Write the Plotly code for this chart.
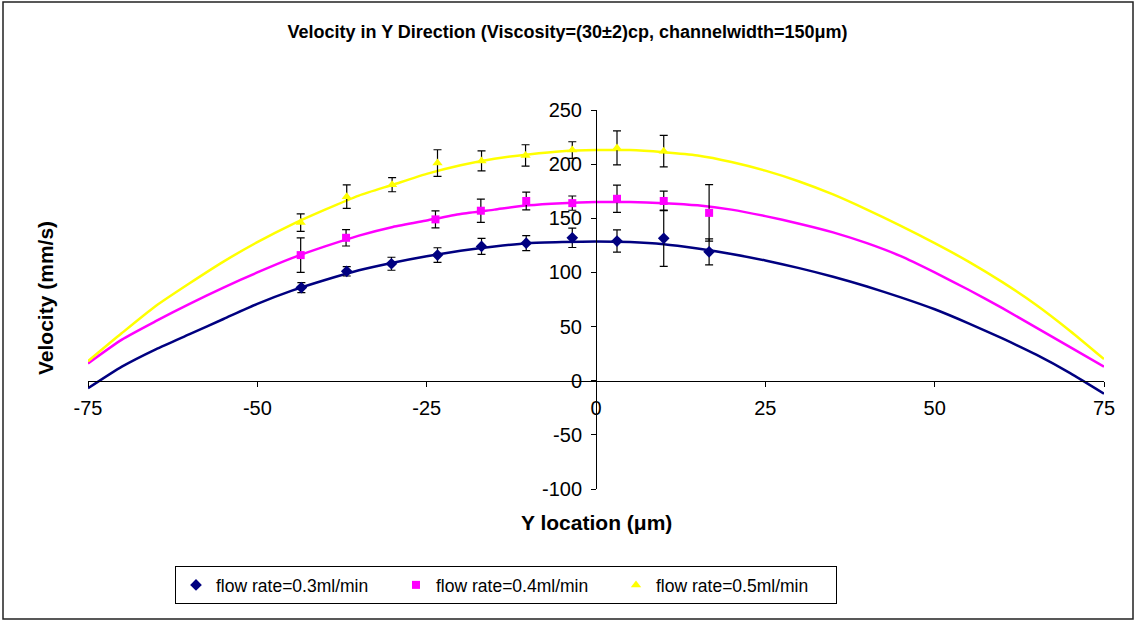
import plotly.graph_objects as go

# Fitted velocity profiles (at 5 um steps)
curve_x = [-75, -70, -65, -60, -55, -50, -45, -40, -35, -30, -25, -20, -15, -10, -5, 0,
           5, 10, 15, 20, 25, 30, 35, 40, 45, 50, 55, 60, 65, 70, 75]
curve_03 = [-7, 13, 29, 43, 57, 71, 83, 93, 102, 109, 115, 120, 124, 127, 128, 128.5,
            128, 126, 122, 117, 111, 104, 96, 87, 77, 66, 53, 39, 24, 7, -12]
curve_04 = [16, 38, 55, 71, 86, 100, 113, 124, 134, 142, 148, 154, 158, 162, 164, 165,
            165, 164, 162, 158, 152, 145, 137, 127, 115, 100, 84, 67, 49, 31, 13]
curve_05 = [18, 44, 69, 90, 110, 128, 144, 158, 171, 181, 191, 199, 205, 209, 212, 213,
            213, 211, 208, 202, 194, 184, 172, 158, 143, 127, 110, 91, 70, 46, 20]

# Measured points with error bars
meas03_x = [-43.5, -36.8, -30.2, -23.4, -16.9, -10.3, -3.5, 3.1, 10.0, 16.7]
meas03_y = [86, 101, 108, 116, 124, 127, 132, 129, 131.5, 119]
meas03_e = [4.6, 4.3, 6, 6.8, 7.4, 6.9, 9, 10.3, 26, 12]

meas04_x = [-43.6, -36.9, -23.7, -17.0, -10.3, -3.5, 3.1, 10.0, 16.7]
meas04_y = [116, 132, 149, 157, 166, 164, 168, 166, 155]
meas04_e = [16, 7.6, 7.8, 10.7, 8.2, 6.6, 12.6, 9, 26]

meas05_x = [-43.6, -36.8, -30.1, -23.4, -16.9, -10.4, -3.5, 3.1, 10.0]
meas05_y = [146, 170, 181, 201, 203, 208, 213, 215, 212]
meas05_e = [8, 10.9, 6.5, 12.3, 9.2, 9.9, 7.7, 15.7, 14.6]

names = ["flow rate=0.3ml/min", "flow rate=0.4ml/min", "flow rate=0.5ml/min"]
colors = ["#000080", "#FF00FF", "#FFFF00"]
symbols = ["diamond", "square", "triangle-up"]
msizes = [9, 8, 9]

x_ticks = [-75, -50, -25, 0, 25, 50, 75]
x_labels = ["-75", "-50", "-25", "0", "25", "50", "75"]
y_ticks = [-100, -50, 0, 50, 100, 150, 200, 250]
y_labels = ["-100", "-50", "0", "50", "100", "150", "200", "250"]

FONT = "Arial, Liberation Sans, sans-serif"

fig = go.Figure()
for cy, c in zip([curve_03, curve_04, curve_05], colors):
    fig.add_trace(go.Scatter(x=curve_x, y=cy, mode="lines", line=dict(color=c, width=2.5, shape="spline", smoothing=0.6),
                             showlegend=False, hoverinfo="skip"))

for mx, my, me, nm, c, s, ms in zip([meas03_x, meas04_x, meas05_x], [meas03_y, meas04_y, meas05_y],
                                    [meas03_e, meas04_e, meas05_e], names, colors, symbols, msizes):
    fig.add_trace(go.Scatter(x=mx, y=my, mode="markers", name=nm,
                             marker=dict(symbol=s, color=c, size=ms, line=dict(width=0)),
                             error_y=dict(type="data", array=me, visible=True, color="black",
                                          thickness=1.2, width=4)))

W, H = 1135, 621
L, R, T, B = 88, 1104, 110, 489
fig.update_layout(
    width=W, height=H,
    margin=dict(l=L, r=W - R, t=T, b=H - B),
    paper_bgcolor="white", plot_bgcolor="white",
    font=dict(family=FONT, color="black"),
    title=dict(text="<b>Velocity in Y Direction (Viscosity=(30±2)cp, channelwidth=150μm)</b>",
               x=0.5, xref="container", xanchor="center", y=1 - 32 / H, yref="container", yanchor="middle",
               font=dict(size=18, family=FONT)),
    showlegend=True,
    legend=dict(orientation="h", x=(175 - L) / (R - L), xanchor="left", y=(B - 566) / (B - T), yanchor="top",
                bordercolor="black", borderwidth=1, font=dict(size=17.5, family=FONT),
                bgcolor="white", itemwidth=30, entrywidth=175, entrywidthmode="pixels"),
    xaxis=dict(range=[-75, 75], tickvals=x_ticks, ticktext=x_labels, ticks="outside", ticklen=5, tickcolor="black",
               showline=True, linecolor="black", linewidth=1, showgrid=False, zeroline=False,
               anchor="free", position=(0 - (-100)) / (250 - (-100)), tickfont=dict(size=20, family=FONT),
               ticklabelstandoff=4),
    yaxis=dict(range=[-100, 250], tickvals=y_ticks, ticktext=y_labels, ticks="outside", ticklen=5, tickcolor="black",
               showline=True, linecolor="black", linewidth=1, showgrid=False, zeroline=False,
               anchor="free", position=0.5, tickfont=dict(size=20, family=FONT), ticklabelstandoff=5),
    annotations=[
        dict(text="<b>Y location (μm)</b>", x=0.5, y=(B - 522) / (B - T), xref="paper", yref="paper",
             showarrow=False, font=dict(size=21, family=FONT), xanchor="center", yanchor="middle"),
        dict(text="<b>Velocity (mm/s)</b>", x=(45 - L) / (R - L), y=(B - 298) / (B - T), xref="paper", yref="paper",
             showarrow=False, textangle=-90, font=dict(size=21, family=FONT), xanchor="center", yanchor="middle"),
    ],
    shapes=[dict(type="rect", xref="paper", yref="paper",
                 x0=(3 - L) / (R - L), x1=(1133 - L) / (R - L), y0=(B - 619) / (B - T), y1=(B - 2) / (B - T),
                 line=dict(color="#222222", width=1.5), fillcolor="rgba(0,0,0,0)", layer="below")],
)

fig.write_html("out.html")
